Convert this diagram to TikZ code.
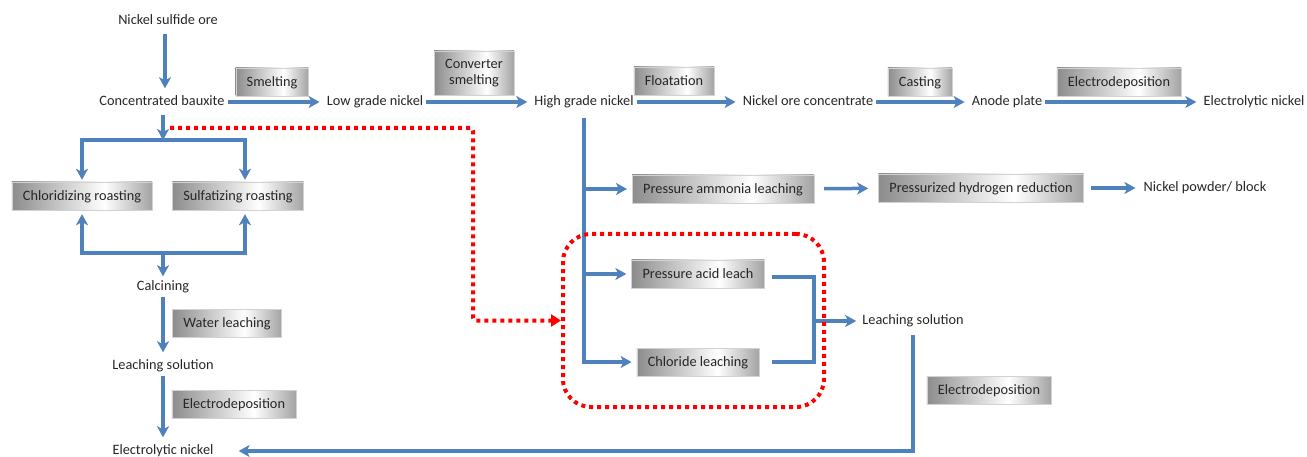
\documentclass[tikz,border=0pt]{standalone}
\usepackage{fontspec}
\setmainfont{Carlito}
\usetikzlibrary{arrows.meta}

\definecolor{nblue}{RGB}{79,129,189}
\colorlet{boxleft}{gray!90}
\colorlet{boxright}{gray!72}
\pgfdeclarehorizontalshading{boxfade}{100bp}{color(0bp)=(boxleft); color(25bp)=(boxleft); color(58bp)=(white); color(75bp)=(boxright); color(100bp)=(boxright)}

\tikzset{
  txt/.style={text=black!85, inner sep=3pt, text height=10pt, text depth=3pt},
  proc/.style={shading=boxfade, draw=gray!35, line width=0.4pt, text=black!85,
    inner xsep=11pt, minimum height=28pt, text height=11pt, text depth=2pt},
  link/.style={draw=nblue, line width=3.5pt},
  flow/.style={link, -{Stealth[length=11pt,width=12pt,inset=3pt]}, shorten >=4pt},
  route/.style={draw=red, line width=4pt, dash pattern=on 4pt off 4pt, rounded corners=3pt,
    -{Triangle[length=10pt,width=12pt]}},
  loopbox/.style={draw=red, line width=4pt, dash pattern=on 4pt off 4pt, rounded corners=28pt,
    minimum width=261pt, minimum height=173pt},
}

\begin{document}
\begin{tikzpicture}[x=1pt, y=-1pt, font=\fontsize{14.3}{16}\selectfont]
  \useasboundingbox (0,0) rectangle (1307,457);

  % top route: smelting to electrolytic nickel
  \node[txt] (ore) at (168,21) {Nickel sulfide ore};
  \node[txt] (bauxite) at (162,102) {Concentrated bauxite};
  \node[txt] (lowgrade) at (375,102) {Low grade nickel};
  \node[txt] (highgrade) at (584,102) {High grade nickel};
  \node[txt] (concentrate) at (808,102) {Nickel ore concentrate};
  \node[txt] (anode) at (1007,102) {Anode plate};
  \node[txt] (elecni) at (1254,102) {Electrolytic nickel};

  \node[proc] (smelt) at (272,82) {Smelting};
  \node[proc, align=center, minimum height=44pt, text height=, text depth=] (convert) at (474,73) {Converter\\smelting};
  \node[proc] (float) at (674,81) {Floatation};
  \node[proc] (cast) at (920,82) {Casting};
  \node[proc] (edtop) at (1119,82) {Electrodeposition};

  \draw[flow, shorten <=3pt] ([xshift=-3pt]ore.south) -- ([xshift=-3pt]ore.south |- bauxite.north);
  \draw[flow] (bauxite) -- (lowgrade);
  \draw[flow] (lowgrade) -- (highgrade);
  \draw[flow] (highgrade) -- (concentrate);
  \draw[flow] (concentrate) -- (anode);
  \draw[flow] (anode) -- (elecni);

  % roasting route
  \node[proc] (chlor) at (82,196) {Chloridizing roasting};
  \node[proc] (sulf) at (238,196) {Sulfatizing roasting};
  \node[txt] (calc) at (163,287) {Calcining};
  \node[txt] (leach) at (163,366) {Leaching solution};
  \node[txt] (elecbot) at (163,451) {Electrolytic nickel};
  \node[proc] (water) at (227,323) {Water leaching};
  \node[proc] (edleft) at (234,404) {Electrodeposition};

  \coordinate (split) at (163,140);
  \coordinate (join) at (163,253);
  \draw[flow, shorten <=3pt, shorten >=0pt] (bauxite.south -| split) -- (split);
  \draw[flow, shorten >=2pt] (split) -| (chlor.north);
  \draw[flow, shorten >=2pt] (split) -| ([xshift=7pt]sulf.north);
  \draw[flow] (join) -| (chlor.south);
  \draw[flow] (join) -| ([xshift=7pt]sulf.south);
  \draw[flow, shorten >=1pt] (join) -- (calc.north);
  \draw[flow] (calc) -- (leach);
  \draw[flow] (leach) -- (elecbot);

  % leaching routes
  \node[proc] (ammonia) at (723,189) {Pressure ammonia leaching};
  \node[proc] (hydro) at (981,188) {Pressurized hydrogen reduction};
  \node[txt] (powder) at (1205,188) {Nickel powder/ block};
  \node[proc] (acid) at (698,274) {Pressure acid leach};
  \node[proc] (chloride) at (698,362) {Chloride leaching};
  \node[txt] (solution) at (913,321) {Leaching solution};
  \node[proc] (edright) at (989,390) {Electrodeposition};

  \draw[flow, shorten <=6pt, shorten >=5pt] (highgrade.south) |- (ammonia.west);
  \draw[flow, shorten <=6pt, shorten >=5pt] (highgrade.south) |- (acid.west);
  \draw[flow, shorten <=6pt, shorten >=5pt] (highgrade.south) |- (chloride.west);
  \draw[flow, shorten <=10pt, shorten >=10pt] (ammonia) -- (hydro);
  \draw[flow, shorten <=7pt, shorten >=5pt] (hydro) -- (powder);

  \coordinate (mix) at (814,321);
  \draw[link] ([shift={(7,3)}]acid.east) -| (mix);
  \draw[link] ([xshift=13pt]chloride.east) -| (mix);
  \draw[flow, shorten >=3pt] (mix) -- (solution.west);
  \draw[flow, shorten <=4pt, shorten >=22pt] (solution.south) |- (elecbot.east);

  % red dotted shortcut
  \node[loopbox] (loop) at (693.5,320.5) {};
  \coordinate (rstart) at (170,128);
  \coordinate (rturn) at (473,128);
  \draw[route] (rstart) -- (rturn) |- (loop.west);
\end{tikzpicture}
\end{document}
